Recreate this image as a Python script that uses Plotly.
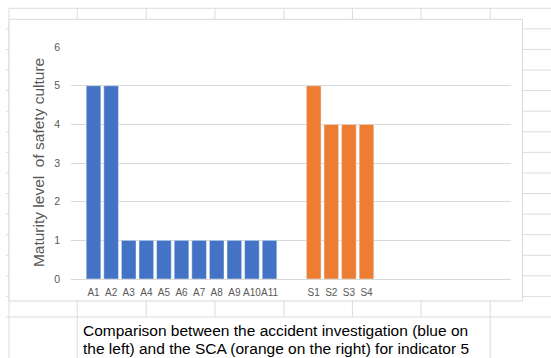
import plotly.graph_objects as go

# Maturity scores per case
accident_labels = ["A1", "A2", "A3", "A4", "A5", "A6", "A7", "A8", "A9", "A10", "A11"]
accident_values = [5, 5, 1, 1, 1, 1, 1, 1, 1, 1, 1]
sca_labels = ["S1", "S2", "S3", "S4"]
sca_values = [5, 4, 4, 4]
y_ticks = [0, 1, 2, 3, 4, 5, 6]

W, H = 551, 358
BLUE = "#4472C4"
ORANGE = "#ED7D31"
GRID = "#d9d9d9"
CELL = "#dcdcdc"
TXT = "#595959"
SANS = "Liberation Sans, Arial, sans-serif"


def px(x):
    return x / W


def py(y):
    return 1 - y / H


fig = go.Figure()
fig.add_trace(go.Bar(x=accident_labels, y=accident_values, marker_color=BLUE,
                     width=0.83, xaxis="x", yaxis="y", showlegend=False))
fig.add_trace(go.Bar(x=sca_labels, y=sca_values, marker_color=ORANGE,
                     width=0.83, xaxis="x2", yaxis="y", showlegend=False))

# Worksheet cell grid behind the chart object
shapes = []


def seg(x0, y0, x1, y1, color=CELL):
    shapes.append(dict(type="line", xref="paper", yref="paper",
                       x0=px(x0), y0=py(y0), x1=px(x1), y1=py(y1),
                       line=dict(color=color, width=1), layer="below"))


row_top, row_pitch = 8.3, 20.58
for k in range(16):
    yk = row_top + row_pitch * k
    seg(6 if k else 9, yk, W, yk)
col_x = [77.3, 146.2, 215.0, 284.0, 352.4, 421.0, 490.2]
seg(9, row_top, 9, H)
for cx in col_x:
    seg(cx, row_top, cx, 317)
seg(77.3, 317, 77.3, H)
seg(490.2, 317, 490.2, H)

# Chart object frame
shapes.append(dict(type="rect", xref="paper", yref="paper",
                   x0=px(9), y0=py(301), x1=px(522.5), y1=py(19.3),
                   fillcolor="white", line=dict(color=GRID, width=1),
                   layer="below"))

dom_x = [px(71), px(511)]
tickfont_x = dict(family=SANS, size=10, color=TXT)

fig.update_layout(
    width=W, height=H,
    margin=dict(l=0, r=0, t=0, b=0, autoexpand=False),
    paper_bgcolor="white",
    plot_bgcolor="rgba(0,0,0,0)",
    shapes=shapes,
    bargap=0.17,
    xaxis=dict(domain=dom_x, type="category", categoryorder="array",
               categoryarray=accident_labels, range=[-1.28, 23.72],
               showgrid=False, zeroline=False, showline=False, ticks="",
               tickangle=0, tickfont=tickfont_x, ticklabelstandoff=6,
               automargin=False, fixedrange=True),
    xaxis2=dict(overlaying="x", anchor="y", side="bottom", type="category",
                categoryorder="array", categoryarray=sca_labels,
                range=[-13.79, 11.21], showgrid=False, zeroline=False,
                showline=False, ticks="", tickangle=0, tickfont=tickfont_x,
                ticklabelstandoff=6, automargin=False, fixedrange=True),
    yaxis=dict(domain=[py(279), py(47)], range=[0, 6.004], tickvals=y_ticks,
               showgrid=True, gridcolor=GRID, gridwidth=1,
               zeroline=True, zerolinecolor=GRID, zerolinewidth=1,
               showline=False, ticks="",
               tickfont=dict(family=SANS, size=10.5, color=TXT),
               ticklabelstandoff=10, automargin=False, fixedrange=True),
    annotations=[
        dict(text="Maturity level\u00a0 of safety culture", xref="paper", yref="paper",
             x=px(38.6), y=py(162.5), xanchor="center", yanchor="middle",
             textangle=-90, showarrow=False,
             font=dict(family=SANS, size=15.5, color=TXT)),
        dict(text="Comparison between the accident investigation (blue on",
             xref="paper", yref="paper", x=px(80.5), y=py(330),
             xanchor="left", yanchor="middle", showarrow=False,
             font=dict(family=SANS, size=15.5, color="#000000")),
        dict(text="the left) and the SCA (orange on the right) for indicator 5",
             xref="paper", yref="paper", x=px(80.5), y=py(348.5),
             xanchor="left", yanchor="middle", showarrow=False,
             font=dict(family=SANS, size=15.5, color="#000000")),
    ],
)

fig.write_html("out.html")
